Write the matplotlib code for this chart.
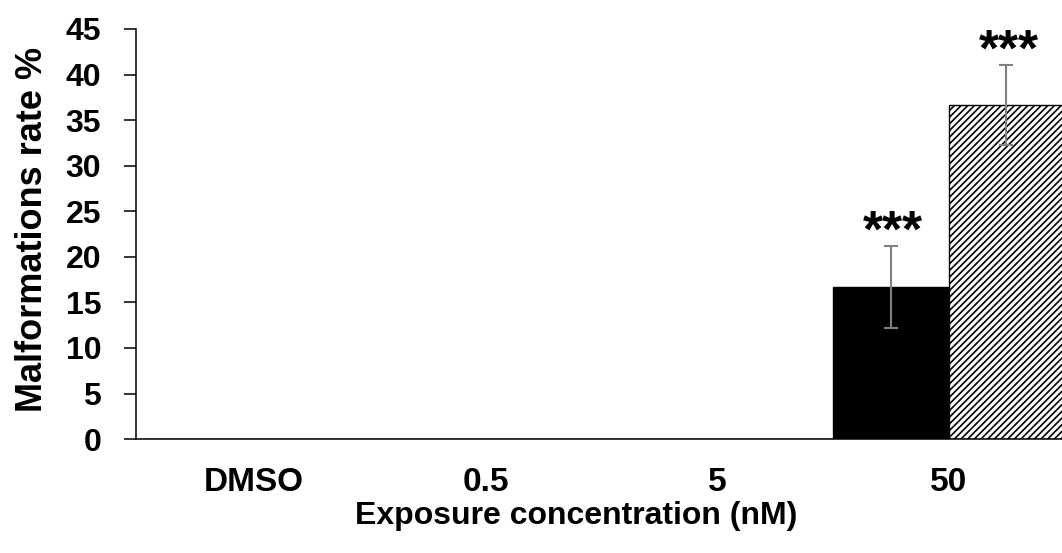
import numpy as np
import matplotlib
matplotlib.use('Agg')
import matplotlib.pyplot as plt

plt.rcParams['font.family'] = ['Liberation Sans', 'DejaVu Sans']
plt.rcParams['font.weight'] = 'bold'
plt.rcParams['hatch.linewidth'] = 1.2

categories = ['DMSO', '0.5', '5', '50']
series_a = [0, 0, 0, 16.7]
err_a = [0, 0, 0, 4.5]
series_b = [0, 0, 0, 36.7]
err_b = [0, 0, 0, 4.4]
stars_a = ['', '', '', '***']
stars_b = ['', '', '', '***']

fig = plt.figure(figsize=(10.62, 5.53), dpi=100)
ax = fig.add_axes([0.128, 0.206, 0.872, 0.7416])

x = np.arange(len(categories)) + 0.01
w = 0.5
ax.bar(x - w / 2, series_a, w, color='black', edgecolor='black', linewidth=1)
ax.bar(x + w / 2, series_b, w, color='white', edgecolor='black', linewidth=1, hatch='/////')

for xs, vals, errs, stars in [(x - w / 2, series_a, err_a, stars_a), (x + w / 2, series_b, err_b, stars_b)]:
    for xi, v, e, s in zip(xs, vals, errs, stars):
        if e > 0:
            ax.errorbar(xi, v, yerr=e, fmt='none', ecolor='#808080', elinewidth=1.5,
                        capsize=5, capthick=1.5)
        if s:
            ax.text(xi + 0.01, v + e - 1.3, s, ha='center', va='bottom', fontsize=37, fontweight='bold')

ax.set_xlim(-0.5, 3.5)
ax.set_ylim(0, 45)
ax.set_yticks(range(0, 46, 5))
ax.set_xticks(x)
ax.set_xticklabels(categories, fontsize=24)
ax.tick_params(axis='y', labelsize=23, length=9, width=1.1, pad=16, color='black')
ax.tick_params(axis='x', length=0, pad=20)

for side in ['top', 'right']:
    ax.spines[side].set_visible(False)
ax.spines['left'].set_linewidth(1.1)
ax.spines['bottom'].set_linewidth(1.1)

ax.set_xlabel('Exposure concentration (nM)', fontsize=23, fontweight='bold')
ax.xaxis.set_label_coords(0.475, -0.150)
ax.set_ylabel('Malformations rate %', fontsize=26, fontweight='bold')
ax.yaxis.set_label_coords(-0.093, 0.512)

fig.savefig('out.png', dpi=100)
